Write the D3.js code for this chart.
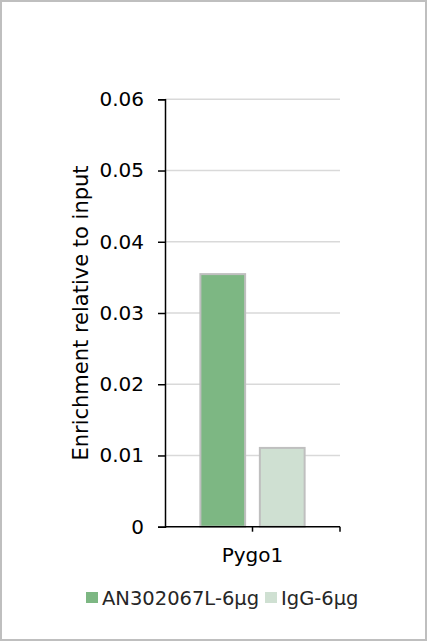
<!DOCTYPE html>
<html>
<head>
<meta charset="utf-8">
<script src="https://cdn.jsdelivr.net/npm/d3@7"></script>
<style>
  html, body { margin: 0; padding: 0; background: #fff; }
  svg { display: block; font-family: "DejaVu Sans", Verdana, sans-serif; }
</style>
</head>
<body>
<svg id="chart" width="427" height="641"></svg>
<script>
// data
const categories = ['Pygo1'];
const seriesNames = ['AN302067L-6μg', 'IgG-6μg'];
const seriesColors = ['#7db783', '#cfe0d2'];
const values = [[0.0356, 0.0112]]; // per category, per series
const yTicks = [0, 0.01, 0.02, 0.03, 0.04, 0.05, 0.06];

const W = 427, H = 641;
const plot = { left: 165, right: 340, top: 99.3, bottom: 526.7 };

const svg = d3.select('#chart');

// outer frame
svg.append('rect')
  .attr('x', 1).attr('y', 1)
  .attr('width', W - 2).attr('height', H - 2)
  .attr('fill', '#fff')
  .attr('stroke', '#bfbfbf')
  .attr('stroke-width', 2);

const y = d3.scaleLinear().domain([0, 0.06]).range([plot.bottom, plot.top]);
const x0 = d3.scaleBand().domain(categories).range([plot.left, plot.right]);
const x1 = d3.scaleBand().domain(seriesNames)
  .range([0, x0.bandwidth()])
  .paddingInner(0.214)
  .paddingOuter(0.578);

// gridlines
svg.append('g')
  .selectAll('line')
  .data(yTicks.filter(d => d > 0))
  .join('line')
  .attr('x1', plot.left).attr('x2', plot.right)
  .attr('y1', d => y(d)).attr('y2', d => y(d))
  .attr('stroke', '#d9d9d9')
  .attr('stroke-width', 1.5);

// bars
const groups = svg.append('g')
  .selectAll('g')
  .data(categories)
  .join('g')
  .attr('transform', d => `translate(${x0(d)},0)`);

groups.selectAll('rect')
  .data((d, i) => values[i].map((v, j) => ({ name: seriesNames[j], v, color: seriesColors[j] })))
  .join('rect')
  .attr('x', d => x1(d.name) + 1)
  .attr('width', x1.bandwidth() - 2)
  .attr('y', d => y(d.v) + 1)
  .attr('height', d => plot.bottom - y(d.v) - 1)
  .attr('fill', d => d.color)
  .attr('stroke', '#bfbfbf')
  .attr('stroke-width', 2);

// y axis
const yAxis = svg.append('g')
  .attr('transform', `translate(${plot.left},0)`)
  .call(d3.axisLeft(y).tickValues(yTicks)
    .tickFormat(d => d === 0 ? '0' : d3.format('.2f')(d))
    .tickSize(7).tickPadding(14));
yAxis.select('.domain').attr('stroke', '#000').attr('stroke-width', 1.5);
yAxis.selectAll('.tick line').attr('stroke', '#000').attr('stroke-width', 1.5);
yAxis.selectAll('.tick text')
  .attr('font-size', 20)
  .attr('font-family', '"DejaVu Sans", Verdana, sans-serif')
  .attr('fill', '#000');

// x axis: ticks on category boundaries
const xAxis = svg.append('g')
  .attr('transform', `translate(0,${plot.bottom})`);
xAxis.append('line')
  .attr('x1', plot.left).attr('x2', plot.right)
  .attr('stroke', '#000').attr('stroke-width', 1.5);
const boundaries = categories.map(c => x0(c) + x0.bandwidth() / 2)
  .concat(categories.map(c => x0(c) + x0.bandwidth()));
xAxis.selectAll('line.tk')
  .data(boundaries)
  .join('line')
  .attr('class', 'tk')
  .attr('x1', d => d).attr('x2', d => d)
  .attr('y1', 0).attr('y2', 5)
  .attr('stroke', '#000').attr('stroke-width', 1.5);
xAxis.selectAll('text')
  .data(categories)
  .join('text')
  .attr('x', d => x0(d) + x0.bandwidth() / 2)
  .attr('y', 35)
  .attr('text-anchor', 'middle')
  .attr('font-size', 20)
  .attr('fill', '#000')
  .text(d => d);

// y axis title
svg.append('text')
  .attr('transform', `translate(88,${(plot.top + plot.bottom) / 2 + 0}) rotate(-90)`)
  .attr('text-anchor', 'middle')
  .attr('font-size', 21)
  .attr('fill', '#000')
  .text('Enrichment relative to input');

// legend
const legendX = [86, 265];
const legend = svg.append('g')
  .selectAll('g')
  .data(seriesNames)
  .join('g')
  .attr('transform', (d, i) => `translate(${legendX[i]},592)`);
legend.append('rect')
  .attr('width', 12).attr('height', 11)
  .attr('fill', (d, i) => seriesColors[i]);
legend.append('text')
  .attr('x', 16).attr('y', 13)
  .attr('font-size', 19.5)
  .attr('fill', '#262626')
  .text(d => d);
</script>
</body>
</html>
